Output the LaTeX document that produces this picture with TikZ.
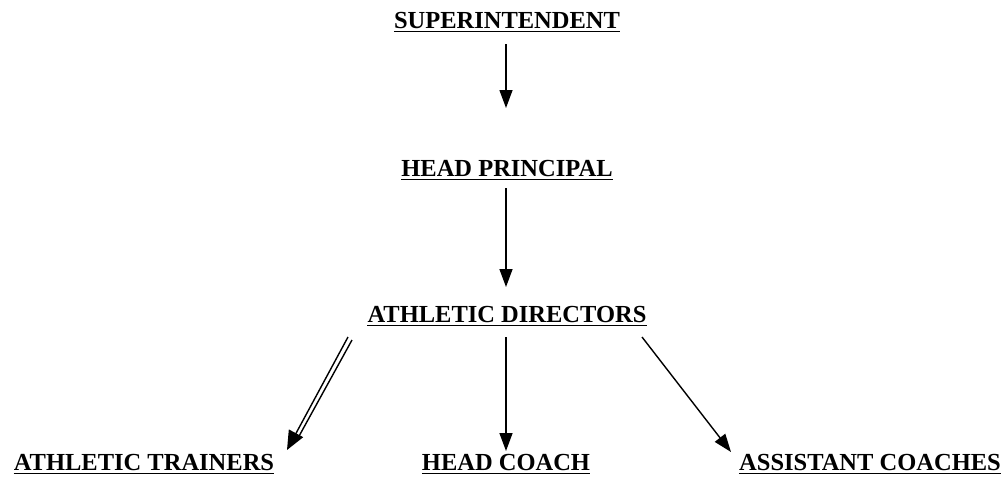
\documentclass[tikz,border=0pt]{standalone}
\usepackage{fontspec}
\setmainfont{Liberation Serif}
\usetikzlibrary{arrows.meta,calc}
\newcommand\lbfont{\fontsize{24.5}{28}\selectfont\bfseries}
\begin{document}
\begin{tikzpicture}[x=1pt,y=-1pt,
  lbl/.style={font=\lbfont, inner sep=0pt, anchor=base},
  uline/.style={line width=1.8pt},
  arr/.style={line width=1.4pt, -{Triangle[length=18pt,width=13pt]}},
  bigarr/.style={line width=1.4pt, -{Triangle[length=19pt,width=16pt]}},
  plain/.style={line width=1.4pt}]
\useasboundingbox (0,0) rectangle (1008,480);
\node[lbl] (sup) at (507,28) {SUPERINTENDENT};
\node[lbl] (hp) at (507,176) {HEAD PRINCIPAL};
\node[lbl] (ad) at (507,322) {ATHLETIC DIRECTORS};
\node[lbl] (at) at (144,470) {ATHLETIC TRAINERS};
\node[lbl] (hc) at (506,470) {HEAD COACH};
\node[lbl] (ac) at (870,470) {ASSISTANT COACHES};
\foreach \n in {sup,hp,ad,at,hc,ac}
  \draw[uline] ([yshift=-3.5pt]\n.base west) -- ([yshift=-3.5pt]\n.base east);
% vertical arrows
\draw[arr] ($(sup.base)+(-1,16)$) -- ($(hp.base)+(-1,-68)$);
\draw[arr] ($(hp.base)+(-1,12)$) -- ($(ad.base)+(-1,-35)$);
\draw[arr] ($(ad.base)+(-1,15)$) -- ($(hc.base)+(0,-19)$);
% right arrow
\draw[arr] ($(ad.base)+(135,15)$) -- ($(ac.base)+(-139,-18)$);
% left double arrow
\draw[bigarr] ($(ad.base)+(-159,15)$) -- ($(at.base)+(143,-20)$);
\draw[plain] ($(ad.base)+(-155,18)$) -- ($(at.base)+(154,-32)$);
\end{tikzpicture}
\end{document}
